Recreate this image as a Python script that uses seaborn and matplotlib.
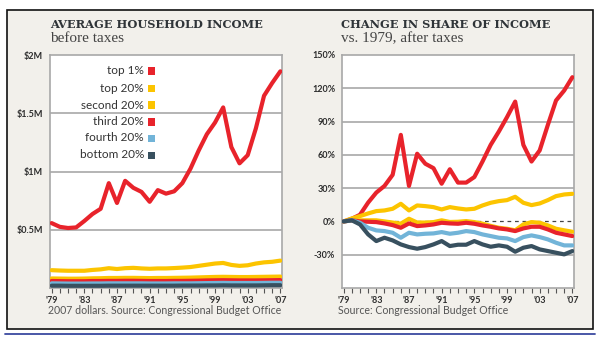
import numpy as np
import pandas as pd
import matplotlib
matplotlib.use("Agg")
import matplotlib.pyplot as plt
from matplotlib.patches import Rectangle
from matplotlib.lines import Line2D
import seaborn as sns

years = list(range(1979, 2008))

# Average household income before taxes (millions of 2007 dollars)
inc_top1 = [0.557, 0.525, 0.515, 0.52, 0.575, 0.635, 0.68, 0.90, 0.73, 0.92, 0.86, 0.825,
            0.74, 0.84, 0.81, 0.83, 0.90, 1.025, 1.18, 1.32, 1.42, 1.55, 1.21, 1.07, 1.14,
            1.37, 1.65, 1.76, 1.86]
inc_top20 = [0.153, 0.150, 0.148, 0.148, 0.148, 0.155, 0.160, 0.170, 0.163, 0.170, 0.173, 0.168,
             0.165, 0.168, 0.168, 0.171, 0.175, 0.180, 0.190, 0.200, 0.210, 0.215, 0.198, 0.190,
             0.195, 0.210, 0.220, 0.225, 0.235]
inc_second = [0.082, 0.081, 0.080, 0.080, 0.081, 0.083, 0.084, 0.086, 0.086, 0.087, 0.087, 0.086,
              0.085, 0.086, 0.086, 0.087, 0.088, 0.089, 0.091, 0.093, 0.095, 0.096, 0.095, 0.094,
              0.094, 0.095, 0.096, 0.097, 0.098]
inc_third = [0.060, 0.059, 0.058, 0.058, 0.058, 0.060, 0.060, 0.061, 0.061, 0.062, 0.062, 0.061,
             0.060, 0.060, 0.060, 0.061, 0.061, 0.062, 0.063, 0.065, 0.066, 0.067, 0.066, 0.065,
             0.065, 0.065, 0.066, 0.067, 0.068]
inc_fourth = [0.040, 0.039, 0.038, 0.038, 0.038, 0.039, 0.039, 0.040, 0.040, 0.040, 0.040, 0.040,
              0.039, 0.039, 0.039, 0.040, 0.040, 0.040, 0.041, 0.042, 0.043, 0.044, 0.043, 0.043,
              0.043, 0.043, 0.044, 0.045, 0.045]
inc_bottom = [0.020, 0.020, 0.019, 0.019, 0.019, 0.019, 0.019, 0.020, 0.020, 0.020, 0.020, 0.020,
              0.020, 0.020, 0.020, 0.020, 0.021, 0.021, 0.021, 0.022, 0.022, 0.023, 0.022, 0.022,
              0.022, 0.022, 0.023, 0.024, 0.024]

# Change in share of after-tax income vs. 1979 (%)
chg_top1 = [0, 2.4, 6, 17, 26, 32, 42, 78, 32, 61, 52, 48, 34, 47, 35, 35, 40, 54, 69, 81,
            94, 108, 69, 54, 64, 87, 109, 118, 130]
chg_top20 = [0, 2.7, 4.8, 7.2, 9.3, 9.9, 11.4, 15.9, 9.9, 14.4, 13.8, 12.9, 10.8, 12.9, 11.7,
             10.8, 11.4, 14.4, 16.8, 18.3, 19.2, 22.2, 16.8, 14.7, 16.2, 19.2, 22.8, 24.3, 24.9]
chg_second = [0, 1, 1, 1, 1, 0, -1, -2, 2.4, -1, -1, -0.6, 1, -0.5, -0.3, 0.3, -0.6, -2, -4,
              -5.7, -6.6, -8, -2.7, -0.6, -1.2, -3.6, -6.6, -8, -9.3]
chg_third = [0, 1, 0, -0.3, -0.6, -1.8, -3.3, -5.7, -1.8, -4.2, -3.6, -2.7, -1.2, -1.8, -2.1,
             -1.2, -2.1, -3.6, -4.8, -6.3, -7.2, -8.7, -6.3, -4.8, -4.8, -7.2, -10.2, -11.7, -13.2]
chg_fourth = [0, 1, -1.2, -5.7, -8.1, -8.7, -10.2, -14.7, -10.2, -11.7, -11.1, -10.8, -9.6,
              -11.1, -10.2, -8.7, -9.6, -11.7, -13.2, -14.7, -15.3, -17.7, -14.1, -12.6, -14.1,
              -16.2, -19.2, -21.6, -21.6]
chg_bottom = [0, 1, -2.7, -11.7, -17.7, -14.7, -17.1, -20.7, -23.1, -24.6, -23.1, -20.7, -17.7,
              -22.2, -21, -21, -17.7, -20.7, -22.8, -21.6, -22.8, -27.3, -23.7, -22.2, -25.2,
              -26.7, -28.2, -29.7, -26.7]

groups = ["top 1%", "top 20%", "second 20%", "third 20%", "fourth 20%", "bottom 20%"]
colors = ["#e8232b", "#fcc400", "#fcc400", "#e8232b", "#72b4d8", "#38505f"]

left_yticks = [0.5, 1.0, 1.5, 2.0]
left_ylabels = ["$0.5M", "$1M", "$1.5M", "$2M"]
right_yticks = [-30, 0, 30, 60, 90, 120, 150]
right_ylabels = ["-30%", "0%", "30%", "60%", "90%", "120%", "150%"]
xticks = [1979, 1983, 1987, 1991, 1995, 1999, 2003, 2007]
xlabels = ["'79", "'83", "'87", "'91", "'95", "'99", "'03", "'07"]

inc = [inc_top1, inc_top20, inc_second, inc_third, inc_fourth, inc_bottom]
chg = [chg_top1, chg_top20, chg_second, chg_third, chg_fourth, chg_bottom]
df_inc = pd.DataFrame([(y, g, v) for g, s in zip(groups, inc) for y, v in zip(years, s)],
                      columns=["year", "group", "value"])
df_chg = pd.DataFrame([(y, g, v) for g, s in zip(groups, chg) for y, v in zip(years, s)],
                      columns=["year", "group", "value"])

sns.set_theme(style="white")
plt.rcParams["font.family"] = ["Lato", "DejaVu Sans"]

W, H = 599, 342
fig = plt.figure(figsize=(W / 100, H / 100), dpi=100)
fig.patch.set_facecolor("white")

def fx(px):
    return px / W

def fy(py):
    return 1 - py / H

# Background box
fig.patches.append(Rectangle((fx(7), fy(329)), fx(593) - fx(7), fy(10) - fy(329),
                             transform=fig.transFigure, facecolor="#f2f0eb",
                             edgecolor="#111111", lw=1.2, zorder=-5))
fig.lines.append(Line2D([fx(5), fx(595)], [fy(334), fy(334)], transform=fig.transFigure,
                        color="#3b4aa0", lw=1.3, zorder=-5))

axL = fig.add_axes([fx(50), fy(288), fx(282) - fx(50), fy(55) - fy(288)])
axR = fig.add_axes([fx(342), fy(288), fx(574) - fx(342), fy(55) - fy(288)])
axL.set_zorder(1)
axR.set_zorder(1)

grid_c = "#a8a8a8"
tick_c = "#2d2d2d"

def style(ax):
    ax.set_facecolor("white")
    for s in ax.spines.values():
        s.set_color(grid_c)
        s.set_linewidth(1.2)
    ax.set_xlim(1978.8, 2007.2)
    ax.set_xticks(xticks)
    ax.set_xticklabels(xlabels, fontsize=6.5, fontweight="bold", color=tick_c)
    ax.set_xticks(years, minor=True)
    ax.tick_params(axis="x", which="both", direction="out", length=3.5, width=0.8,
                   color="#555555", bottom=True, pad=2)
    ax.tick_params(axis="y", length=0, pad=5)
    ax.set_xlabel("")
    ax.set_ylabel("")

# Left panel
for yv in [0.5, 1.0, 1.5]:
    axL.axhline(yv, color=grid_c, lw=1.2, zorder=1)
sns.lineplot(data=df_inc, x="year", y="value", hue="group", hue_order=groups,
             palette=dict(zip(groups, colors)), lw=3.0, ax=axL, legend=False, zorder=3)
axL.set_ylim(0, 2.0)
axL.set_yticks(left_yticks)
axL.set_yticklabels(left_ylabels, fontsize=6.5, fontweight="bold", color=tick_c)
style(axL)

# Right panel
for yv in [-30, 30, 60, 90, 120]:
    axR.axhline(yv, color=grid_c, lw=1.2, zorder=1)
axR.axhline(0, color="#444444", lw=0.9, ls=(0, (3, 3)), zorder=1)
sns.lineplot(data=df_chg, x="year", y="value", hue="group", hue_order=groups,
             palette=dict(zip(groups, colors)), lw=3.0, ax=axR, legend=False, zorder=3)
axR.set_ylim(-60, 150)
axR.set_yticks(right_yticks)
axR.set_yticklabels(right_ylabels, fontsize=6.5, fontweight="bold", color=tick_c)
style(axR)

# Legend (manual, right-aligned text with colored squares)
leg_y = [71, 88, 105, 122, 138, 155]
for g, c, yy in zip(groups, colors, leg_y):
    fig.text(fx(144), fy(yy), g, ha="right", va="center", fontsize=8.5, color="#333333",
             zorder=10)
    fig.patches.append(Rectangle((fx(147.5), fy(yy + 3.5)), fx(7), fy(0) - fy(7),
                                 transform=fig.transFigure, facecolor=c, edgecolor="none",
                                 zorder=10))

# Titles
title_c = "#2f3438"
fig.text(fx(50), fy(24), "AVERAGE HOUSEHOLD INCOME", fontsize=8.2, fontweight="bold",
         family=["DejaVu Serif"], color=title_c, va="center", ha="left")
fig.text(fx(50), fy(39), "before taxes", fontsize=11, family=["Liberation Serif"],
         color="#444444", va="center", ha="left")
fig.text(fx(341), fy(24), "CHANGE IN SHARE OF INCOME", fontsize=8.2, fontweight="bold",
         family=["DejaVu Serif"], color=title_c, va="center", ha="left")
fig.text(fx(341), fy(39), "vs. 1979, after taxes", fontsize=11, family=["Liberation Serif"],
         color="#444444", va="center", ha="left")

# Source notes
fig.text(fx(48), fy(311), "2007 dollars. Source: Congressional Budget Office", fontsize=7.6,
         color="#555555", va="center", ha="left")
fig.text(fx(338), fy(311), "Source: Congressional Budget Office", fontsize=7.6,
         color="#555555", va="center", ha="left")

fig.savefig("out.png", dpi=100, facecolor="white")
